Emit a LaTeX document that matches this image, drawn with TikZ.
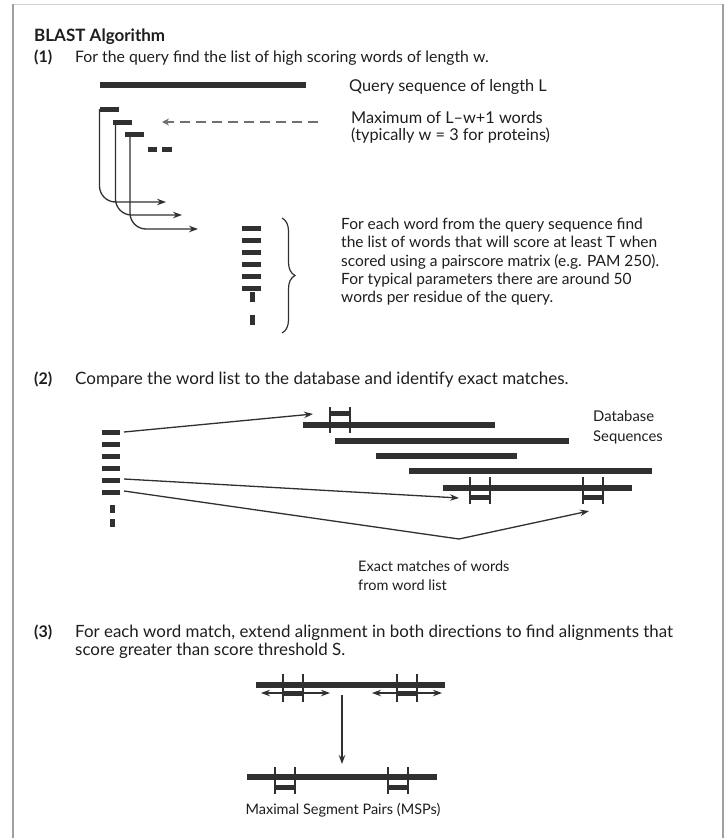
\documentclass[tikz,border=0pt]{standalone}
\usepackage{fontspec}
\setmainfont{Lato}
\usetikzlibrary{arrows.meta,decorations.pathreplacing}
\definecolor{ink}{HTML}{303030}
\definecolor{txt}{HTML}{1E1E1E}
\definecolor{dash}{HTML}{707070}
\newcommand{\fs}[1]{\fontsize{#1}{1.2\dimexpr #1pt\relax}\selectfont}
\begin{document}
\begin{tikzpicture}[x=1pt,y=-1pt,
  bar/.style={draw=ink,line width=6pt},
  wbar/.style={draw=ink,line width=5pt},
  vdash/.style={draw=ink,line width=5pt},
  tick/.style={draw=ink,line width=1.4pt},
  conn/.style={draw=ink,line width=1.3pt,-{Stealth[length=9pt,width=6.5pt]}},
  dconn/.style={draw=ink,line width=1.2pt,{Stealth[length=9pt,width=6.5pt]}-{Stealth[length=9pt,width=6.5pt]}},
  lbl/.style={anchor=base west,inner sep=0pt,text=txt},
  hdr/.style={anchor=base west,inner sep=0pt,text=txt,font=\bfseries}]
\useasboundingbox (0,0) rectangle (725,838);
\fill[white] (0,0) rectangle (725,838);
% frame
\draw[gray!35,line width=1pt] (13,4) -- (723,4);
\draw[gray!75,line width=1.2pt] (13,4) -- (13,838);
\draw[gray!75,line width=1.2pt] (723,4) -- (723,838);

% headings
\node[hdr,font=\fs{17}\bfseries] (title) at (34,41) {BLAST Algorithm};
\node[hdr,font=\fs{16}\bfseries] (n1) at (34,62) {(1)};
\node[lbl,font=\fs{15.8}] (t1) at (75,62) {For the query find the list of high scoring words of length w.};
\node[hdr,font=\fs{16}\bfseries] (n2) at (34,384) {(2)};
\node[lbl,font=\fs{17}] (t2) at (75,384) {Compare the word list to the database and identify exact matches.};
\node[hdr,font=\fs{16}\bfseries] (n3) at (34,637) {(3)};
\node[lbl,font=\fs{16.9}] (t3) at (75,637) {For each word match, extend alignment in both directions to find alignments that};
\node[lbl,font=\fs{16.9}] (t3b) at (75,655) {score greater than score threshold S.};

% ---------- part 1
\draw[bar] (100,85) -- (306,85);
\node[lbl,font=\fs{16.3}] (q) at (349,91) {Query sequence of length L};
\node[lbl,font=\fs{16.3}] (m1) at (351,123) {Maximum of L–w+1 words};
\node[lbl,font=\fs{16.3}] (m2) at (351,140) {(typically w = 3 for proteins)};
\draw[wbar] (100,109) -- (119,109);
\draw[wbar] (113,122) -- (132,122);
\draw[wbar] (125,134) -- (144,134);
\draw[wbar] (148,149) -- (157,149);
\draw[wbar] (162,149) -- (172,149);
\coordinate (dstart) at (318,122);
\coordinate (dend) at (162,122);
\draw[draw=dash,line width=2.6pt,dash pattern=on 10pt off 6pt,-{Stealth[length=7pt,width=7pt]}] (dstart) -- (dend);
% L arrows
\coordinate (a1) at (99.5,109);
\coordinate (a1e) at (166,202);
\coordinate (a2) at (115.5,122);
\coordinate (a2e) at (182,215);
\coordinate (a3) at (130,134);
\coordinate (a3e) at (198,229);
\draw[conn,rounded corners=16pt] (a1) |- (a1e);
\draw[conn,rounded corners=16pt] (a2) |- (a2e);
\draw[conn,rounded corners=16pt] (a3) |- (a3e);
% word column
\foreach \y in {228,240,252,264,276,288} \draw[wbar] (242,\y) -- (261,\y);
\draw[vdash] (252,292) -- (252,302);
\draw[vdash] (252,315) -- (252,325);
\coordinate (bt) at (282,218);
\coordinate (bb) at (282,333);
\draw[draw=ink,line width=1.2pt,decorate,decoration={brace,amplitude=13pt,aspect=0.5}] (bt) -- (bb);
\node[lbl,align=left,anchor=north west,font=\fontsize{15.5}{18.3}\selectfont] (p1) at (341,218) {For each word from the query sequence find\\the list of words that will score at least T when\\scored using a pairscore matrix (e.g. PAM 250).\\For typical parameters there are around 50\\words per residue of the query.};

% ---------- part 2
\foreach \y in {432,444,456,468,480,492} \draw[wbar] (102,\y) -- (120,\y);
\draw[vdash] (112,505) -- (112,513);
\draw[vdash] (112,519) -- (112,527);
\draw[bar] (303,425) -- (495,425);
\draw[bar] (335,441) -- (569,441);
\draw[bar] (376,456) -- (517,456);
\draw[bar] (409,471) -- (652,471);
\draw[bar] (443,488) -- (632,488);
\draw[tick] (330,407) -- (330,433);
\draw[tick] (350,407) -- (350,433);
\draw[wbar] (330,413) -- (350,413);
\draw[tick] (470,477) -- (470,504);
\draw[tick] (490,477) -- (490,504);
\draw[wbar] (470,497) -- (490,497);
\draw[tick] (583,477) -- (583,504);
\draw[tick] (603,477) -- (603,504);
\draw[wbar] (583,497) -- (603,497);
\node[lbl,font=\fs{14.8}] (db1) at (593,421) {Database};
\node[lbl,font=\fs{14.8}] (db2) at (593,441) {Sequences};
\coordinate (w1) at (124,432);
\coordinate (m1e) at (313,414);
\coordinate (w5) at (124,479);
\coordinate (m2e) at (459,498);
\coordinate (w6) at (124,491);
\coordinate (meet) at (459,539);
\coordinate (m3e) at (589,511);
\draw[conn] (w1) -- (m1e);
\draw[conn] (w5) -- (m2e);
\draw[conn,line join=round] (w6) -- (meet) -- (m3e);
\node[lbl,align=left,anchor=north west,font=\fontsize{14.5}{19}\selectfont] (ex) at (358,561) {Exact matches of words\\from word list};

% ---------- part 3
\draw[bar] (256,685) -- (445,685);
\draw[tick] (283,674) -- (283,702);
\draw[tick] (303,674) -- (303,702);
\draw[tick] (397,674) -- (397,702);
\draw[tick] (417,674) -- (417,702);
\draw[wbar] (283,693) -- (303,693);
\draw[wbar] (397,693) -- (417,693);
\coordinate (l1) at (261,693);
\coordinate (r1) at (330,693);
\coordinate (l2) at (372,693);
\coordinate (r2) at (442,693);
\draw[dconn] (l1) -- (r1);
\draw[dconn] (l2) -- (r2);
\coordinate (ds) at (342,695);
\coordinate (de) at (342,764);
\draw[conn] (ds) -- (de);
\draw[bar] (247,777) -- (437,777);
\draw[tick] (275,767) -- (275,794);
\draw[tick] (295,767) -- (295,794);
\draw[tick] (388,767) -- (388,794);
\draw[tick] (408,767) -- (408,794);
\draw[wbar] (275,787) -- (295,787);
\draw[wbar] (388,787) -- (408,787);
\node[lbl,font=\fs{14.5},anchor=base] (msp) at (343,814) {Maximal Segment Pairs (MSPs)};
\end{tikzpicture}
\end{document}
